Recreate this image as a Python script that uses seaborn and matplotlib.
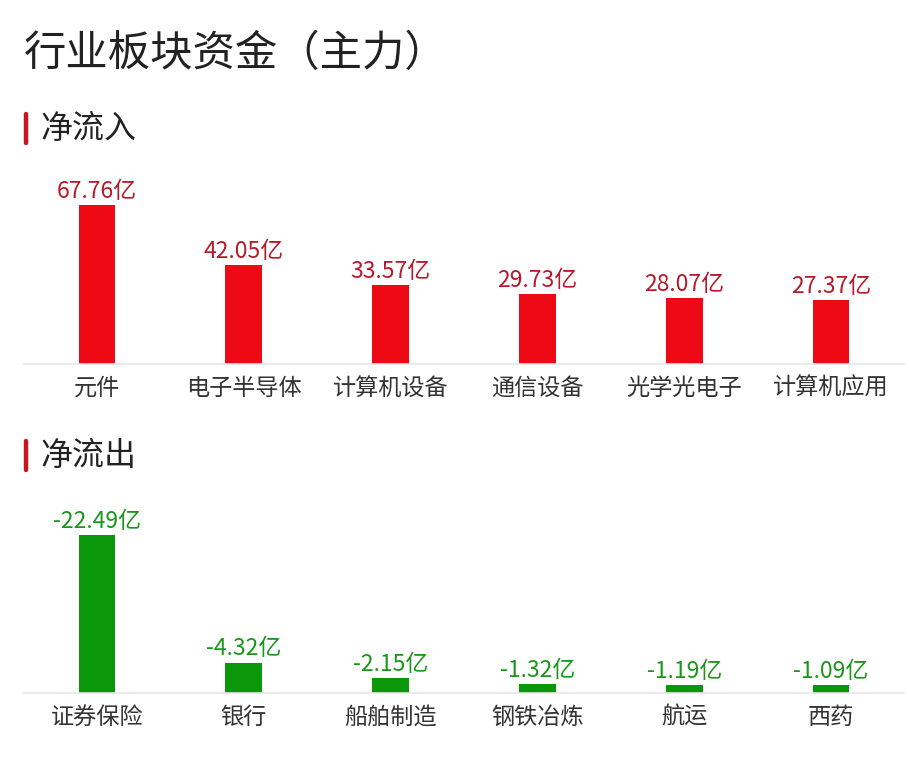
import matplotlib
matplotlib.use("Agg")
import matplotlib.pyplot as plt
from matplotlib.lines import Line2D
import seaborn as sns
import pandas as pd

# ---- data ----
in_categories = ["元件", "电子半导体", "计算机设备", "通信设备", "光学光电子", "计算机应用"]
in_values = [67.76, 42.05, 33.57, 29.73, 28.07, 27.37]
out_categories = ["证券保险", "银行", "船舶制造", "钢铁冶炼", "航运", "西药"]
out_values = [-22.49, -4.32, -2.15, -1.32, -1.19, -1.09]

title = "行业板块资金（主力）"
header_in = "净流入"
header_out = "净流出"

sns.set_theme(style="white")
plt.rcParams['font.family'] = ['Noto Sans CJK SC', 'DejaVu Sans']

W, H = 909, 767
fig = plt.figure(figsize=(W / 100, H / 100), dpi=100)
fig.patch.set_facecolor("white")


def fx(px):
    return px / W


def fy(py):
    return 1 - py / H


RED_BAR = "#EE0A14"
RED_TXT = "#B8182A"
GREEN_BAR = "#0A980A"
GREEN_TXT = "#1A961A"
GRID = "#E6E6E6"
TXT = "#333333"
HDR = "#222222"

fig.text(fx(24), fy(54), title, fontsize=30.5, color=HDR, va="center", ha="left")


def header(ypx, text):
    fig.add_artist(Line2D([fx(26), fx(26)], [fy(ypx - 15), fy(ypx + 14)],
                          color="#C8161E", lw=3.2, solid_capstyle="round"))
    fig.text(fx(40), fy(ypx), text, fontsize=23, color=HDR, va="center", ha="left")


def panel(base_px, top_px, cats, vals, ymax, bar_color, txt_color):
    left, right = 23.5, 904.5
    ax = fig.add_axes([fx(left), fy(base_px), (right - left) / W, (base_px - top_px) / H])
    df = pd.DataFrame({"cat": cats, "val": [abs(v) for v in vals]})
    sns.barplot(data=df, x="cat", y="val", color=bar_color, width=0.25,
                saturation=1, ax=ax, edgecolor="none")
    ax.set_ylim(0, ymax)
    ax.set_xlim(-0.5, len(cats) - 0.5)
    labels = [f"{v:.2f}亿" for v in vals]
    ax.bar_label(ax.containers[0], labels=labels, padding=1.5, fontsize=16.5,
                 color=txt_color)
    for s in ["top", "right", "left"]:
        ax.spines[s].set_visible(False)
    ax.spines["bottom"].set_color(GRID)
    ax.spines["bottom"].set_linewidth(1.2)
    ax.set_yticks([])
    ax.set_xlabel("")
    ax.set_ylabel("")
    ax.tick_params(axis="x", length=0, pad=9, labelsize=16.7, labelcolor=TXT)
    ax.set_facecolor("none")
    return ax


header(129, header_in)
panel(364, 175, in_categories, in_values, 80.5, RED_BAR, RED_TXT)

header(456, header_out)
panel(693, 505, out_categories, out_values, 26.7, GREEN_BAR, GREEN_TXT)

fig.savefig("out.png", dpi=100, facecolor="white")
